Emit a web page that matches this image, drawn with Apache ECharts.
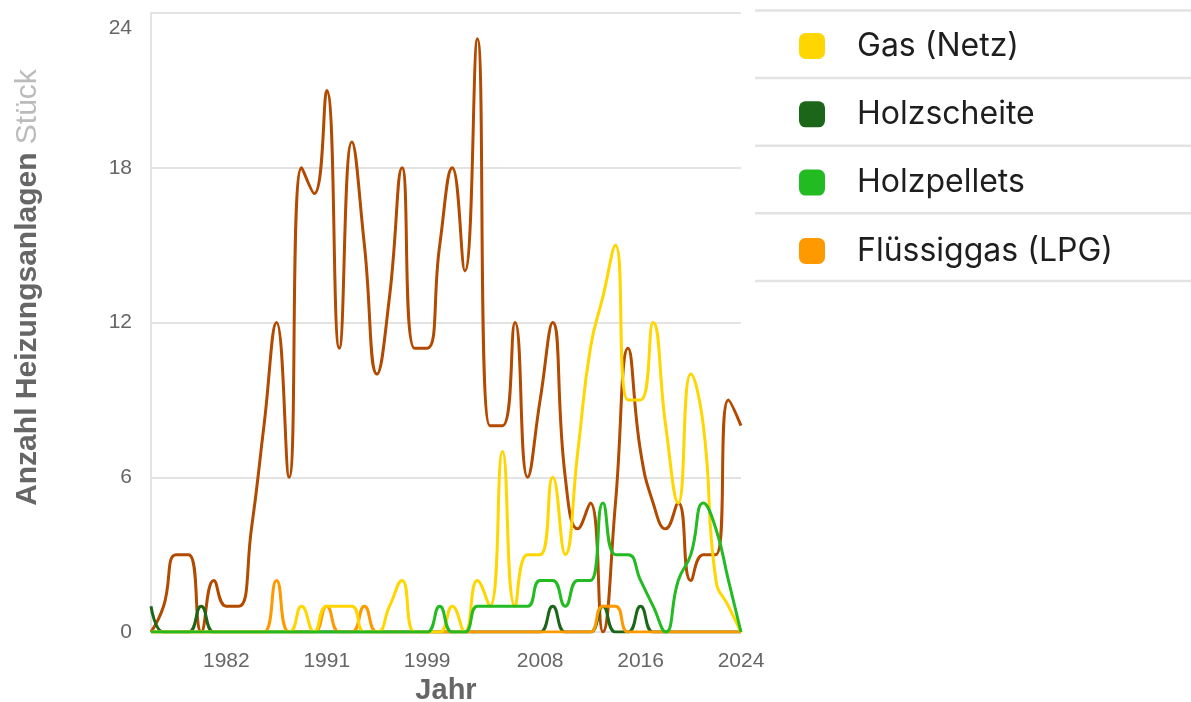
<!DOCTYPE html>
<html>
<head>
<meta charset="utf-8">
<script src="https://cdn.jsdelivr.net/npm/echarts@6/dist/echarts.min.js"></script>
<style>
  html, body { margin: 0; padding: 0; background: #fff; overflow: hidden; }
  #chart { width: 1191px; height: 702px; }
</style>
</head>
<body>
<div id="chart"></div>
<script>
const years = ['1976', '1977', '1978', '1979', '1980', '1981', '1982', '1983', '1984', '1986',
  '1987', '1988', '1989', '1990', '1991', '1992', '1993', '1994', '1995', '1996',
  '1997', '1998', '1999', '2000', '2001', '2002', '2003', '2004', '2005', '2006',
  '2007', '2008', '2009', '2010', '2011', '2012', '2013', '2014', '2015', '2016',
  '2017', '2018', '2019', '2020', '2021', '2022', '2023', '2024'];

// years that get a label on the x axis
const xTickLabels = ['1982', '1991', '1999', '2008', '2016', '2024'];

const heizoel = [0, 1, 3, 3, 0, 2, 1, 1, 4, 8, 12, 6, 18, 17, 21, 11, 19, 15, 10, 13,
  18, 11, 11, 15, 18, 14, 23, 8, 8, 12, 6, 9, 12, 6, 4, 5, 0, 5, 11, 7,
  5, 4, 5, 2, 3, 3, 9, 8];
const gasNetz = [0, 0, 0, 0, 0, 0, 0, 0, 0, 0, 0, 0, 1, 0, 1, 1, 1, 0, 0, 1,
  2, 0, 0, 0, 1, 0, 2, 1, 7, 1, 3, 3, 6, 3, 7, 11, 13, 15, 9, 9,
  12, 8, 5, 10, 8, 2, 1, 0];
const holzscheite = [1, 0, 0, 0, 1, 0, 0, 0, 0, 0, 0, 0, 0, 0, 0, 0, 0, 0, 0, 0,
  0, 0, 0, 0, 0, 0, 0, 0, 0, 0, 0, 0, 1, 0, 0, 0, 1, 0, 0, 1,
  0, 0, 0, 0, 0, 0, 0, 0];
const holzpellets = [0, 0, 0, 0, 0, 0, 0, 0, 0, 0, 0, 0, 0, 0, 0, 0, 0, 0, 0, 0,
  0, 0, 0, 1, 0, 0, 1, 1, 1, 1, 1, 2, 2, 1, 2, 2, 5, 3, 3, 2,
  1, 0, 2, 3, 5, 4, 2, 0];
const fluessiggas = [0, 0, 0, 0, 0, 0, 0, 0, 0, 0, 2, 0, 0, 0, 1, 0, 0, 1, 0, 0,
  0, 0, 0, 0, 0, 0, 0, 0, 0, 0, 0, 0, 0, 0, 0, 0, 1, 1, 0, 0,
  0, 0, 0, 0, 0, 0, 0, 0];

const legendNames = ['Gas (Netz)', 'Holzscheite', 'Holzpellets', 'Flüssiggas (LPG)'];

const chart = echarts.init(document.getElementById('chart'));

function line(name, data, color) {
  return {
    name: name,
    type: 'line',
    data: data,
    smooth: 0.5,
    symbol: 'none',
    color: color,
    itemStyle: { color: color },
    lineStyle: { color: color, width: 3 }
  };
}

// legend separator lines
const rowH = 67.6;
const seps = [];
for (let i = 0; i < 5; i++) {
  seps.push({
    type: 'line',
    shape: { x1: 755, y1: 10.5 + i * rowH, x2: 1191, y2: 10.5 + i * rowH },
    style: { stroke: '#e3e3e3', lineWidth: 2.5 }
  });
}

const option = {
  animation: false,
  grid: { left: 151, right: 450, top: 13, bottom: 70, containLabel: false, outerBoundsMode: 'none' },
  legend: {
    data: legendNames,
    orient: 'vertical',
    left: 799,
    top: 30,
    padding: 0,
    itemWidth: 26,
    itemHeight: 26,
    itemGap: rowH - 31.3,
    icon: 'roundRect',
    textStyle: {
      fontFamily: 'Inter',
      fontSize: 32,
      color: '#1e1e1e',
      padding: [0, 0, 0, 27]
    }
  },
  graphic: seps,
  xAxis: {
    type: 'category',
    data: years,
    boundaryGap: false,
    name: 'Jahr',
    nameLocation: 'middle',
    nameGap: 44,
    nameTextStyle: { fontFamily: 'Liberation Sans', fontSize: 29, fontWeight: 'bold', color: '#666' },
    axisLine: { show: true, lineStyle: { color: '#e3e3e3', width: 2 } },
    axisTick: { show: false },
    axisLabel: {
      interval: function (idx, value) { return xTickLabels.indexOf(value) >= 0; },
      fontFamily: 'Liberation Sans',
      fontSize: 21,
      color: '#666',
      margin: 19
    },
    splitLine: { show: false }
  },
  yAxis: {
    type: 'value',
    min: 0,
    max: 24,
    interval: 6,
    name: '{b|Anzahl Heizungsanlagen }{s|Stück}',
    nameLocation: 'middle',
    nameRotate: 90,
    nameGap: 108,
    nameTextStyle: {
      padding: [0, 0, 0, 70],
      rich: {
        b: { fontFamily: 'Liberation Sans', fontSize: 30, fontWeight: 'bold', color: '#666' },
        s: { fontFamily: 'Liberation Sans', fontSize: 30, color: '#bbb' }
      }
    },
    axisLine: { show: true, lineStyle: { color: '#e3e3e3', width: 2 } },
    axisTick: { show: false },
    axisLabel: {
      fontFamily: 'Liberation Sans',
      fontSize: 21,
      color: '#666',
      margin: 19,
      formatter: function (v) { return v === 24 ? '{t|24}' : String(v); },
      rich: {
        t: { fontFamily: 'Liberation Sans', fontSize: 21, color: '#666', padding: [30, 0, 0, 0] }
      }
    },
    splitLine: { lineStyle: { color: '#e3e3e3', width: 2 } }
  },
  series: [
    line('Heizöl', heizoel, '#b24a00'),
    line('Holzscheite', holzscheite, '#1b6618'),
    line('Flüssiggas (LPG)', fluessiggas, '#ff9900'),
    line('Gas (Netz)', gasNetz, '#ffd600'),
    line('Holzpellets', holzpellets, '#22bb22')
  ]
};

chart.setOption(option);
</script>
</body>
</html>
